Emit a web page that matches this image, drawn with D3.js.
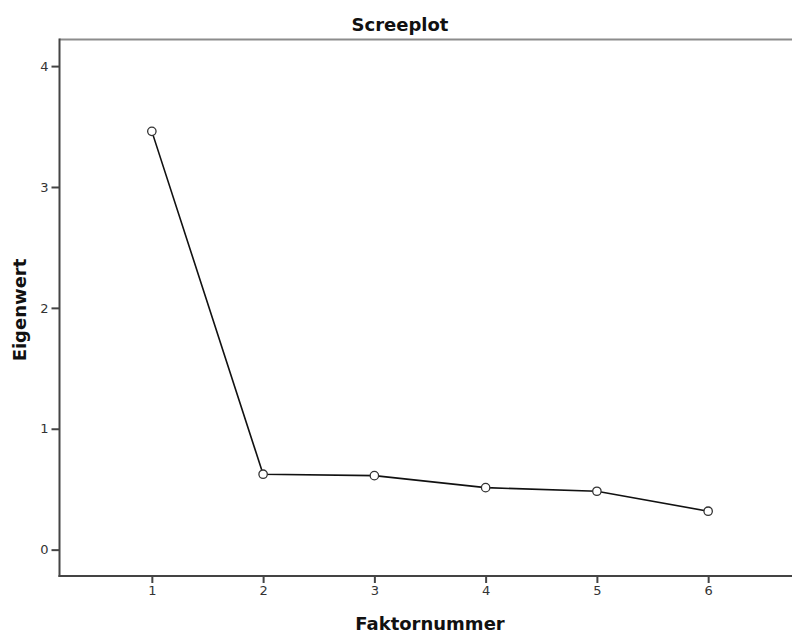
<!DOCTYPE html>
<html>
<head>
<meta charset="utf-8">
<script src="https://cdn.jsdelivr.net/npm/d3@7"></script>
<style>
  body { margin: 0; background: #fff; }
  text { font-family: "DejaVu Sans", sans-serif; }
  .tick text { font-size: 13px; fill: #333; }
  .label { font-size: 18px; font-weight: bold; fill: #111; }
</style>
</head>
<body>
<div id="chart"></div>
<script>
var factors = [1, 2, 3, 4, 5, 6];
var eigenvalues = [3.46, 0.624, 0.612, 0.513, 0.483, 0.318];
var yTicks = [0, 1, 2, 3, 4];

var data = factors.map(function(f, i) { return {factor: f, value: eigenvalues[i]}; });

var W = 792, H = 634;
var plotLeft = 59.5, plotRight = 800.5, plotTop = 39.5, plotBottom = 576;

var x = d3.scaleLinear().domain([0.17, 6.83]).range([plotLeft, plotRight]);
var y = d3.scaleLinear().domain([-0.218, 4.22]).range([plotBottom, plotTop]);

var svg = d3.select('#chart').append('svg')
    .attr('width', W)
    .attr('height', H);

// frame top line
svg.append('line')
   .attr('x1', plotLeft).attr('x2', W)
   .attr('y1', plotTop).attr('y2', plotTop)
   .style('stroke', '#8c8c8c').style('stroke-width', 2);

var yAxis = d3.axisLeft(y).tickValues(yTicks).tickSize(8).tickPadding(3).tickFormat(d3.format('d'));
var xAxis = d3.axisBottom(x).tickValues(factors).tickSize(7).tickPadding(3).tickFormat(d3.format('d'));

var gy = svg.append('g').attr('transform', 'translate(' + plotLeft + ',0)').call(yAxis);
var gx = svg.append('g').attr('transform', 'translate(0,' + plotBottom + ')').call(xAxis);

[gy, gx].forEach(function(g) {
    g.select('.domain').remove();
    g.selectAll('.tick line').style('stroke', '#444').style('stroke-width', 2);
});

// axis lines
svg.append('line')
   .attr('x1', plotLeft).attr('x2', plotLeft)
   .attr('y1', plotTop - 1).attr('y2', plotBottom + 1)
   .style('stroke', '#444').style('stroke-width', 2);
svg.append('line')
   .attr('x1', plotLeft - 1).attr('x2', W)
   .attr('y1', plotBottom).attr('y2', plotBottom)
   .style('stroke', '#444').style('stroke-width', 2);

var line = d3.line()
    .x(function(d) { return x(d.factor); })
    .y(function(d) { return y(d.value); });

svg.append('path')
   .datum(data)
   .attr('d', line)
   .style('fill', 'none')
   .style('stroke', '#111')
   .style('stroke-width', 1.6);

svg.selectAll('circle.pt')
   .data(data)
   .enter().append('circle')
   .attr('class', 'pt')
   .attr('cx', function(d) { return x(d.factor); })
   .attr('cy', function(d) { return y(d.value); })
   .attr('r', 4.2)
   .style('fill', '#fff')
   .style('stroke', '#333')
   .style('stroke-width', 1.3);

// titles
svg.append('text')
   .attr('class', 'label')
   .attr('x', 400).attr('y', 31)
   .attr('text-anchor', 'middle')
   .text('Screeplot');
svg.append('text')
   .attr('class', 'label')
   .attr('x', 430).attr('y', 630)
   .attr('text-anchor', 'middle')
   .text('Faktornummer');
svg.append('text')
   .attr('class', 'label')
   .attr('transform', 'translate(26,' + 310 + ') rotate(-90)')
   .attr('text-anchor', 'middle')
   .text('Eigenwert');
</script>
</body>
</html>
